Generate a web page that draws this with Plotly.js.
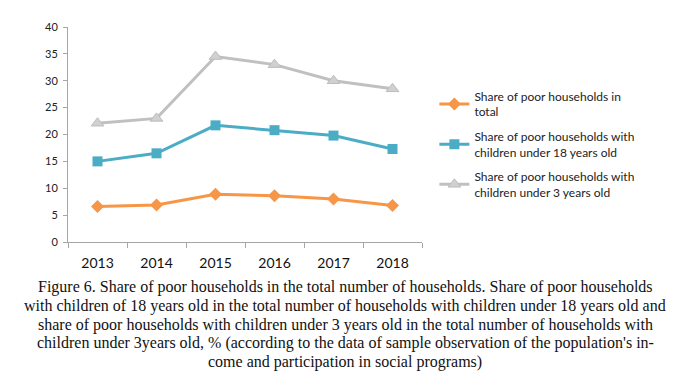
<!DOCTYPE html>
<html><head><meta charset="utf-8">
<script src="https://cdn.plot.ly/plotly-3.0.1.min.js"></script>
<style>body{margin:0;background:#fff}#chart{width:688px;height:392px}</style>
</head><body><div id="chart"></div>
<script>
const years = ['2013','2014','2015','2016','2017','2018'];
const shareTotal = [6.6, 6.9, 8.9, 8.6, 8.0, 6.8];
const shareUnder18 = [15.0, 16.5, 21.7, 20.8, 19.8, 17.3];
const shareUnder3 = [22.1, 23.0, 34.5, 33.0, 30.0, 28.5];
const seriesNames = [
  'Share of poor households in<br>total',
  'Share of poor households with<br>children under 18 years old',
  'Share of poor households with<br>children under 3 years old'
];
const yTicks = [0,5,10,15,20,25,30,35,40];
const captionLines = [
 'Figure 6. Share of poor households in the total number of households. Share of poor households',
 'with children of 18 years old in the total number of households with children under 18 years old and',
 'share of poor households with children under 3 years old in the total number of households with',
 'children under 3years old, % (according to the data of sample observation of the population\'s in-',
 'come and participation in social programs)'
];

const traces = [
  {x: years, y: shareTotal, name: seriesNames[0], legendgroup:'a', type:'scatter', mode:'lines+markers',
   line:{color:'#F79646', width:3}, marker:{symbol:'diamond', size:10, color:'#F79646'}},
  {x: years, y: shareUnder18, name: seriesNames[1], legendgroup:'b', type:'scatter', mode:'lines+markers',
   line:{color:'#4BACC6', width:3}, marker:{symbol:'square', size:10, color:'#4BACC6'}},
  {x: years, y: shareUnder3, name: seriesNames[2], legendgroup:'c', type:'scatter', mode:'lines+markers',
   line:{color:'#C0C0C0', width:3}, marker:{symbol:'triangle-up', size:11, color:'#D0D0D0', line:{color:'#BDBDBD', width:1}}}
];

const plotTop = 27, plotBottom = 242, plotH = plotBottom - plotTop;
const annotations = captionLines.map((t, i) => ({
  xref:'paper', yref:'paper', x: (345-68)/354, y: (plotBottom - (287 + i*18.75))/plotH,
  xanchor:'center', yanchor:'middle', text: t, showarrow:false,
  font:{family:'"Liberation Serif", "Times New Roman", serif', size:16, color:'#111'}
}));

const layout = {
  width: 688, height: 392,
  margin: {l:68, r:266, t:plotTop, b:392-plotBottom},
  paper_bgcolor:'#fff', plot_bgcolor:'#fff',
  font: {family:'Lato, "Liberation Sans", sans-serif', color:'#222'},
  showlegend: true,
  legend: {x: 1.035, y: 0.745, xanchor:'left', yanchor:'top', font:{size:12, color:'#222'},
           tracegroupgap: 6, itemwidth: 30, bgcolor:'rgba(0,0,0,0)'},
  xaxis: {type:'category', range:[-0.5, 5.5], showline:true, linecolor:'#A6A6A6', linewidth:1,
          ticks:'outside', ticklen:5, tickcolor:'#A6A6A6', tickson:'boundaries', ticklabelstandoff:8,
          showgrid:false, zeroline:false, tickfont:{size:14, color:'#111'}, fixedrange:true},
  yaxis: {range:[0, 40], tickvals: yTicks, showline:true, linecolor:'#A6A6A6', linewidth:1,
          ticks:'outside', ticklen:4, tickcolor:'#A6A6A6', showgrid:false, zeroline:false, ticklabelstandoff:3,
          tickfont:{size:11, color:'#222'}, fixedrange:true},
  annotations: annotations
};
Plotly.newPlot('chart', traces, layout, {staticPlot:true});
</script></body></html>
